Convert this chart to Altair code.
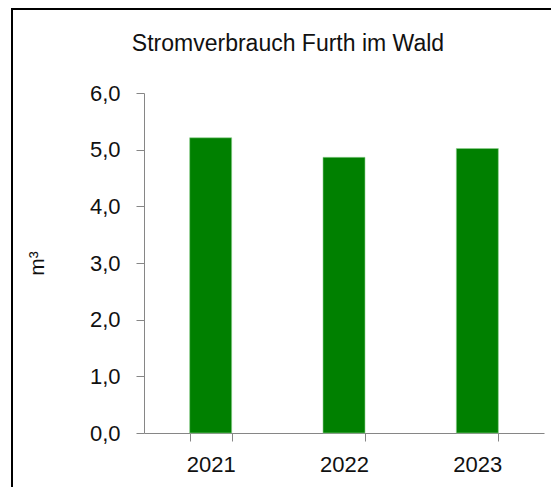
import altair as alt
import pandas as pd

years = ["2021", "2022", "2023"]
values = [5.21, 4.865, 5.02]
y_ticks = [0, 1, 2, 3, 4, 5, 6]
title_text = "Stromverbrauch Furth im Wald"
y_title = "m³"

df = pd.DataFrame({"Jahr": years, "Wert": values})

FONT = "Liberation Sans"

bars = alt.Chart(df).mark_bar(color="#008000", stroke="#8fd08f", strokeWidth=0.6).encode(
    x=alt.X(
        "Jahr:N",
        scale=alt.Scale(paddingInner=0.685, paddingOuter=0.3425),
        axis=alt.Axis(
            title=None, labelAngle=0, tickBand="extent", tickSize=8,
            labelPadding=13, labelFontSize=22, labelFont=FONT, labelColor="#111111",
            domainColor="#868686", tickColor="#868686",
        ),
    ),
    y=alt.Y(
        "Wert:Q",
        scale=alt.Scale(domain=[0, 6], nice=False),
        axis=alt.Axis(
            values=y_ticks, title=y_title, grid=False, tickSize=8,
            labelExpr="replace(format(datum.value, '.1f'), '.', ',')",
            labelPadding=16, labelFontSize=22, labelFont=FONT, labelColor="#111111",
            domainColor="#868686", tickColor="#868686",
            titleFont=FONT, titleFontSize=21, titleFontWeight="normal", titleColor="#111111",
            titleX=-107, titleY=170, titleAlign="center", titleBaseline="middle", titleAngle=270,
        ),
    ),
)

frame = alt.Chart(alt.Data(values=[{}])).mark_rect(
    fill=None, stroke="#000000", strokeWidth=2
).encode(
    x=alt.value(-132), x2=alt.value(440), y=alt.value(-84), y2=alt.value(430)
)

chart = alt.layer(bars, frame).properties(
    width=400,
    height=340,
    padding={"left": 136, "top": 85, "right": 7, "bottom": 54},
    autosize=alt.AutoSizeParams(type="none"),
    title=alt.TitleParams(
        title_text, font=FONT, fontSize=23, fontWeight="normal", color="#111111",
        anchor="middle", frame="group", dx=-56, offset=-48,
    ),
).configure_view(stroke=None)

chart.save("out.html", embed_options={"renderer": "svg", "actions": False})
